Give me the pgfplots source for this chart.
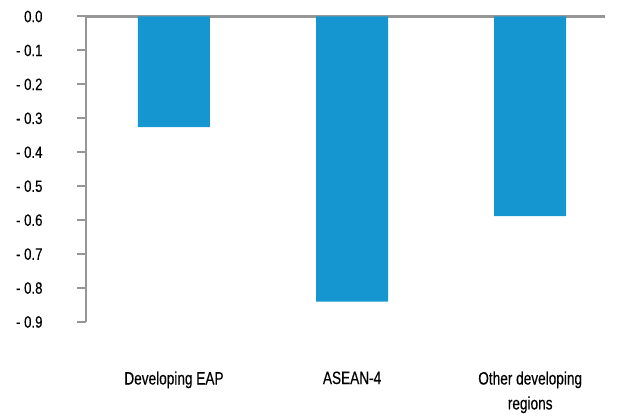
\documentclass[border=0pt]{standalone}
\usepackage{fontspec}
\setmainfont{Liberation Sans}[FakeStretch=0.76, FakeBold=0.35]
\newfontfamily\tickfont{Liberation Sans}[FakeStretch=0.8, FakeBold=0.35]
\usepackage{pgfplots}
\pgfplotsset{compat=1.18}
\definecolor{barblue}{RGB}{22,150,208}
\definecolor{axgray}{RGB}{150,150,150}
\begin{document}
\begin{tikzpicture}
\begin{axis}[
  name=ax,
  scale only axis,
  width=519bp, height=305.5bp,
  xmin=-0.494, xmax=2.42,
  ymin=-0.9, ymax=0,
  axis y line*=left,
  axis x line*=bottom,
  x axis line style={draw=none},
  y axis line style={draw=axgray, line width=2bp},
  ytick={0,-0.1,-0.2,-0.3,-0.4,-0.5,-0.6,-0.7,-0.8,-0.9},
  yticklabels={0.0,- 0.1,- 0.2,- 0.3,- 0.4,- 0.5,- 0.6,- 0.7,- 0.8,- 0.9},
  yticklabel style={font=\tickfont\fontsize{16.5}{18}\selectfont, anchor=east, xshift=-31bp},
  ytick style={draw=axgray, line width=2bp},
  tick align=outside,
  major tick length=9bp,
  xtick={0,1,2},
  xticklabels={Developing EAP,ASEAN-4,Other developing\\regions},
  xticklabel style={font=\fontsize{18}{25}\selectfont, align=center, anchor=north, yshift=-37bp},
  major x tick style={draw=none},
  extra y ticks={0},
  extra y tick labels={},
  extra y tick style={grid=major, major grid style={draw=axgray, line width=2.3bp}, major tick length=9bp},
  clip=false,
]
\addplot[ybar, bar width=72bp, fill=barblue, draw=none] coordinates {(0,-0.326) (1,-0.840) (2,-0.588)};
\end{axis}
\path[draw=none] ([xshift=-86bp,yshift=-90bp]ax.south west) rectangle ++(619bp,412bp);
\end{tikzpicture}
\end{document}
